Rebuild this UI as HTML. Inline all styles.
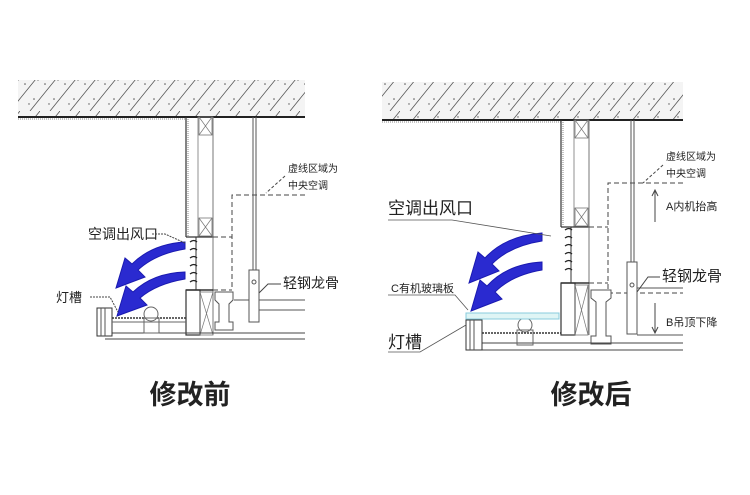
<!DOCTYPE html>
<html><head><meta charset="utf-8"><style>
html,body{margin:0;padding:0;background:#fff;}
svg{display:block;}
text{font-family:"Liberation Sans","Noto Sans CJK SC",sans-serif;fill:#222;}
</style></head><body>
<svg width="750" height="495" viewBox="0 0 750 495" xmlns="http://www.w3.org/2000/svg">
<defs>
<pattern id="hatch" width="20" height="37" patternUnits="userSpaceOnUse">
<rect width="20" height="37" fill="#f4f4f4"/>
<line x1="-10" y1="37" x2="20" y2="0" stroke="#555" stroke-width="0.8"/>
<line x1="10" y1="37" x2="40" y2="0" stroke="#555" stroke-width="0.8"/>
<circle cx="5" cy="10" r="0.8" fill="#555"/><circle cx="14" cy="25" r="0.8" fill="#555"/><circle cx="18" cy="6" r="0.7" fill="#555"/><circle cx="9" cy="30" r="0.7" fill="#555"/>
</pattern>
<g id="xbox"><rect x="0" y="0" width="13" height="18" fill="none" stroke="#777" stroke-width="0.8"/><line x1="0" y1="0" x2="13" y2="18" stroke="#777" stroke-width="0.7"/><line x1="13" y1="0" x2="0" y2="18" stroke="#777" stroke-width="0.7"/></g>
<g id="curls" stroke="#222" stroke-width="1.3" fill="none">
<path d="M190 242 q4 -3 7 0"/><path d="M190 250 q4 -3 7 0"/><path d="M190 258 q4 -3 7 0"/><path d="M190 266 q4 -3 7 0"/><path d="M190 274 q4 -3 7 0"/><path d="M190 282 q4 -3 7 0"/>
</g>
</defs>

<!-- LEFT PANEL -->
<rect x="18" y="80" width="287" height="37" fill="url(#hatch)"/>
<line x1="18" y1="117" x2="305" y2="117" stroke="#222" stroke-width="2"/>
<line x1="18" y1="119" x2="186" y2="119" stroke="#888" stroke-width="1" stroke-dasharray="1,1"/>
<line x1="186" y1="117" x2="186" y2="237" stroke="#333" stroke-width="1.2"/>
<line x1="188" y1="119" x2="188" y2="236" stroke="#888" stroke-dasharray="1,1"/>
<rect x="198" y="117" width="15" height="120" fill="none" stroke="#777" stroke-width="0.8"/>
<use href="#xbox" x="199" y="117"/><use href="#xbox" x="199" y="218"/>
<line x1="186" y1="237" x2="213" y2="237" stroke="#333" stroke-width="1.2"/>
<line x1="213" y1="117" x2="213" y2="335" stroke="#777"/>
<line x1="196" y1="237" x2="196" y2="290" stroke="#333"/>
<use href="#curls" x="0" y="0"/>
<rect x="186" y="290" width="14" height="45" fill="none" stroke="#333" stroke-width="1.2"/>
<line x1="186" y1="290" x2="213" y2="290" stroke="#333" stroke-width="1.5"/>
<rect x="200" y="292" width="13" height="43" fill="none" stroke="#777" stroke-width="0.8"/>
<line x1="200" y1="292" x2="213" y2="335" stroke="#777" stroke-width="0.7"/><line x1="213" y1="292" x2="200" y2="335" stroke="#777" stroke-width="0.7"/>
<path d="M305 195 H232 V290 M213 237 H232 M213 290 H232" fill="none" stroke="#444" stroke-width="1" stroke-dasharray="5,3"/>
<line x1="253" y1="117" x2="253" y2="270" stroke="#555"/><line x1="256" y1="117" x2="256" y2="270" stroke="#555"/>
<rect x="249" y="270" width="10" height="52" fill="#fff" stroke="#555"/>
<circle cx="254" cy="282" r="2" fill="none" stroke="#555"/>
<line x1="259" y1="300" x2="305" y2="300" stroke="#555"/><line x1="259" y1="310" x2="305" y2="310" stroke="#555"/>
<line x1="234" y1="300" x2="249" y2="300" stroke="#555"/>
<path d="M215 292 h18 v8 l-4 4 v18 h4 v8 h-18 v-8 h4 v-18 l-4 -4z" fill="#fff" stroke="#555"/>
<path d="M112 318 H186" stroke="#333" stroke-width="1.5" stroke-dasharray="2,1"/>
<line x1="105" y1="333" x2="305" y2="333" stroke="#444"/>
<line x1="105" y1="339" x2="305" y2="339" stroke="#444"/>
<rect x="97" y="308" width="15" height="28" fill="#fff" stroke="#333"/>
<line x1="101" y1="308" x2="101" y2="336" stroke="#555"/><line x1="105" y1="308" x2="105" y2="336" stroke="#555"/>
<circle cx="151" cy="314" r="7" fill="#fff" stroke="#666"/>
<rect x="144" y="318" width="15" height="15" fill="none" stroke="#666"/>
<line x1="112" y1="322" x2="186" y2="322" stroke="#666"/>
<!-- arrows -->
<path d="M185 249 Q155 254 138 270 L145 277 L116 288 L125 258 L132 264 Q152 244 185 242 Z" fill="#2a2ad0" stroke="#1a1ab0"/>
<path d="M185 279 Q156 284 140 298 L147 305 L117 316 L126 286 L133 292 Q153 273 185 272 Z" fill="#2a2ad0" stroke="#1a1ab0"/>
<text x="88" y="239" font-size="14">空调出风口</text>
<path d="M152 234 H165 L185 243" fill="none" stroke="#444" stroke-dasharray="2,1"/>
<text x="56" y="302" font-size="13">灯槽</text>
<path d="M90 297 H110 L118 312" fill="none" stroke="#444" stroke-dasharray="2,1"/>
<text x="283" y="288" font-size="14">轻钢龙骨</text>
<path d="M281 284 H268 L259 293" fill="none" stroke="#444"/>
<text x="288" y="172" font-size="10" fill="#444">虚线区域为</text>
<text x="288" y="189" font-size="10" fill="#444">中央空调</text>
<path d="M285 176 L266 193" stroke="#444" stroke-dasharray="3,2"/>
<text x="190" y="404" font-size="27" font-weight="bold" text-anchor="middle">修改前</text>

<!-- RIGHT PANEL -->
<rect x="382" y="82" width="301" height="38" fill="url(#hatch)"/>
<line x1="382" y1="120" x2="683" y2="120" stroke="#222" stroke-width="2"/>
<line x1="382" y1="122" x2="561" y2="122" stroke="#888" stroke-dasharray="1,1"/>
<line x1="561" y1="120" x2="561" y2="227" stroke="#333" stroke-width="1.2"/>
<line x1="563" y1="122" x2="563" y2="226" stroke="#888" stroke-dasharray="1,1"/>
<rect x="574" y="120" width="15" height="107" fill="none" stroke="#777" stroke-width="0.8"/>
<use href="#xbox" x="575" y="120"/><use href="#xbox" x="575" y="208"/>
<line x1="561" y1="227" x2="589" y2="227" stroke="#333" stroke-width="1.2"/>
<line x1="589" y1="120" x2="589" y2="335" stroke="#777"/>
<line x1="571" y1="227" x2="571" y2="283" stroke="#333"/>
<use href="#curls" x="375" y="-12"/>
<rect x="561" y="283" width="14" height="52" fill="none" stroke="#333" stroke-width="1.2"/>
<line x1="561" y1="283" x2="589" y2="283" stroke="#333" stroke-width="1.5"/>
<rect x="575" y="285" width="13" height="50" fill="none" stroke="#777" stroke-width="0.8"/>
<line x1="575" y1="285" x2="588" y2="335" stroke="#777" stroke-width="0.7"/><line x1="588" y1="285" x2="575" y2="335" stroke="#777" stroke-width="0.7"/>
<path d="M683 183 H608 V293 M589 227 H608 M589 283 H608 M608 293 H683" fill="none" stroke="#444" stroke-dasharray="5,3"/>
<line x1="631" y1="120" x2="631" y2="262" stroke="#555"/><line x1="634" y1="120" x2="634" y2="262" stroke="#555"/>
<rect x="627" y="262" width="10" height="72" fill="#fff" stroke="#555"/>
<circle cx="632" cy="285" r="2" fill="none" stroke="#555"/>
<line x1="637" y1="288" x2="683" y2="288" stroke="#555"/><line x1="637" y1="335" x2="683" y2="335" stroke="#555"/>
<path d="M591 290 h20 v8 l-5 4 v34 h5 v8 h-20 v-8 h5 v-34 l-5 -4z" fill="#fff" stroke="#555"/>
<line x1="479" y1="333" x2="561" y2="333" stroke="#333" stroke-width="1.5" stroke-dasharray="2,1"/>
<line x1="482" y1="343" x2="683" y2="343" stroke="#444"/>
<line x1="477" y1="350" x2="683" y2="350" stroke="#444"/>
<rect x="466" y="320" width="16" height="30" fill="#fff" stroke="#333"/>
<line x1="470" y1="320" x2="470" y2="350" stroke="#555"/><line x1="474" y1="320" x2="474" y2="350" stroke="#555"/>
<circle cx="525" cy="325" r="7" fill="#fff" stroke="#666"/>
<rect x="517" y="330" width="16" height="15" fill="none" stroke="#666"/>
<rect x="466" y="313" width="93" height="6" fill="#dff5f5" stroke="#8cd"/>
<path d="M542 241 Q510 246 492 264 L499 271 L469 283 L478 252 L485 258 Q505 236 542 233 Z" fill="#2a2ad0" stroke="#1a1ab0"/>
<path d="M542 270 Q512 275 495 292 L502 299 L471 311 L480 280 L487 286 Q507 264 542 262 Z" fill="#2a2ad0" stroke="#1a1ab0"/>
<text x="388" y="214" font-size="17">空调出风口</text>
<path d="M388 220 H452 L551 236" fill="none" stroke="#555" stroke-width="0.8"/>
<text x="391" y="292" font-size="11">C有机玻璃板</text>
<path d="M388 295 H455 L468 310" fill="none" stroke="#555" stroke-width="0.8"/>
<text x="388" y="348" font-size="17">灯槽</text>
<path d="M388 352 H420 L466 325" fill="none" stroke="#555" stroke-width="0.8"/>
<text x="662" y="281" font-size="15">轻钢龙骨</text>
<path d="M660 277 H648 L637 292" fill="none" stroke="#444"/>
<text x="666" y="160" font-size="10" fill="#444">虚线区域为</text>
<text x="666" y="177" font-size="10" fill="#444">中央空调</text>
<path d="M663 165 L643 183" stroke="#444" stroke-dasharray="3,2"/>
<text x="666" y="210" font-size="11">A内机抬高</text>
<text x="666" y="326" font-size="11">B吊顶下降</text>
<path d="M655 222 V190 M652 196 L655 190 L658 196" fill="none" stroke="#444"/>
<path d="M655 303 V333 M652 327 L655 333 L658 327" fill="none" stroke="#444"/>
<text x="591" y="404" font-size="27" font-weight="bold" text-anchor="middle">修改后</text>
</svg>
</body></html>
